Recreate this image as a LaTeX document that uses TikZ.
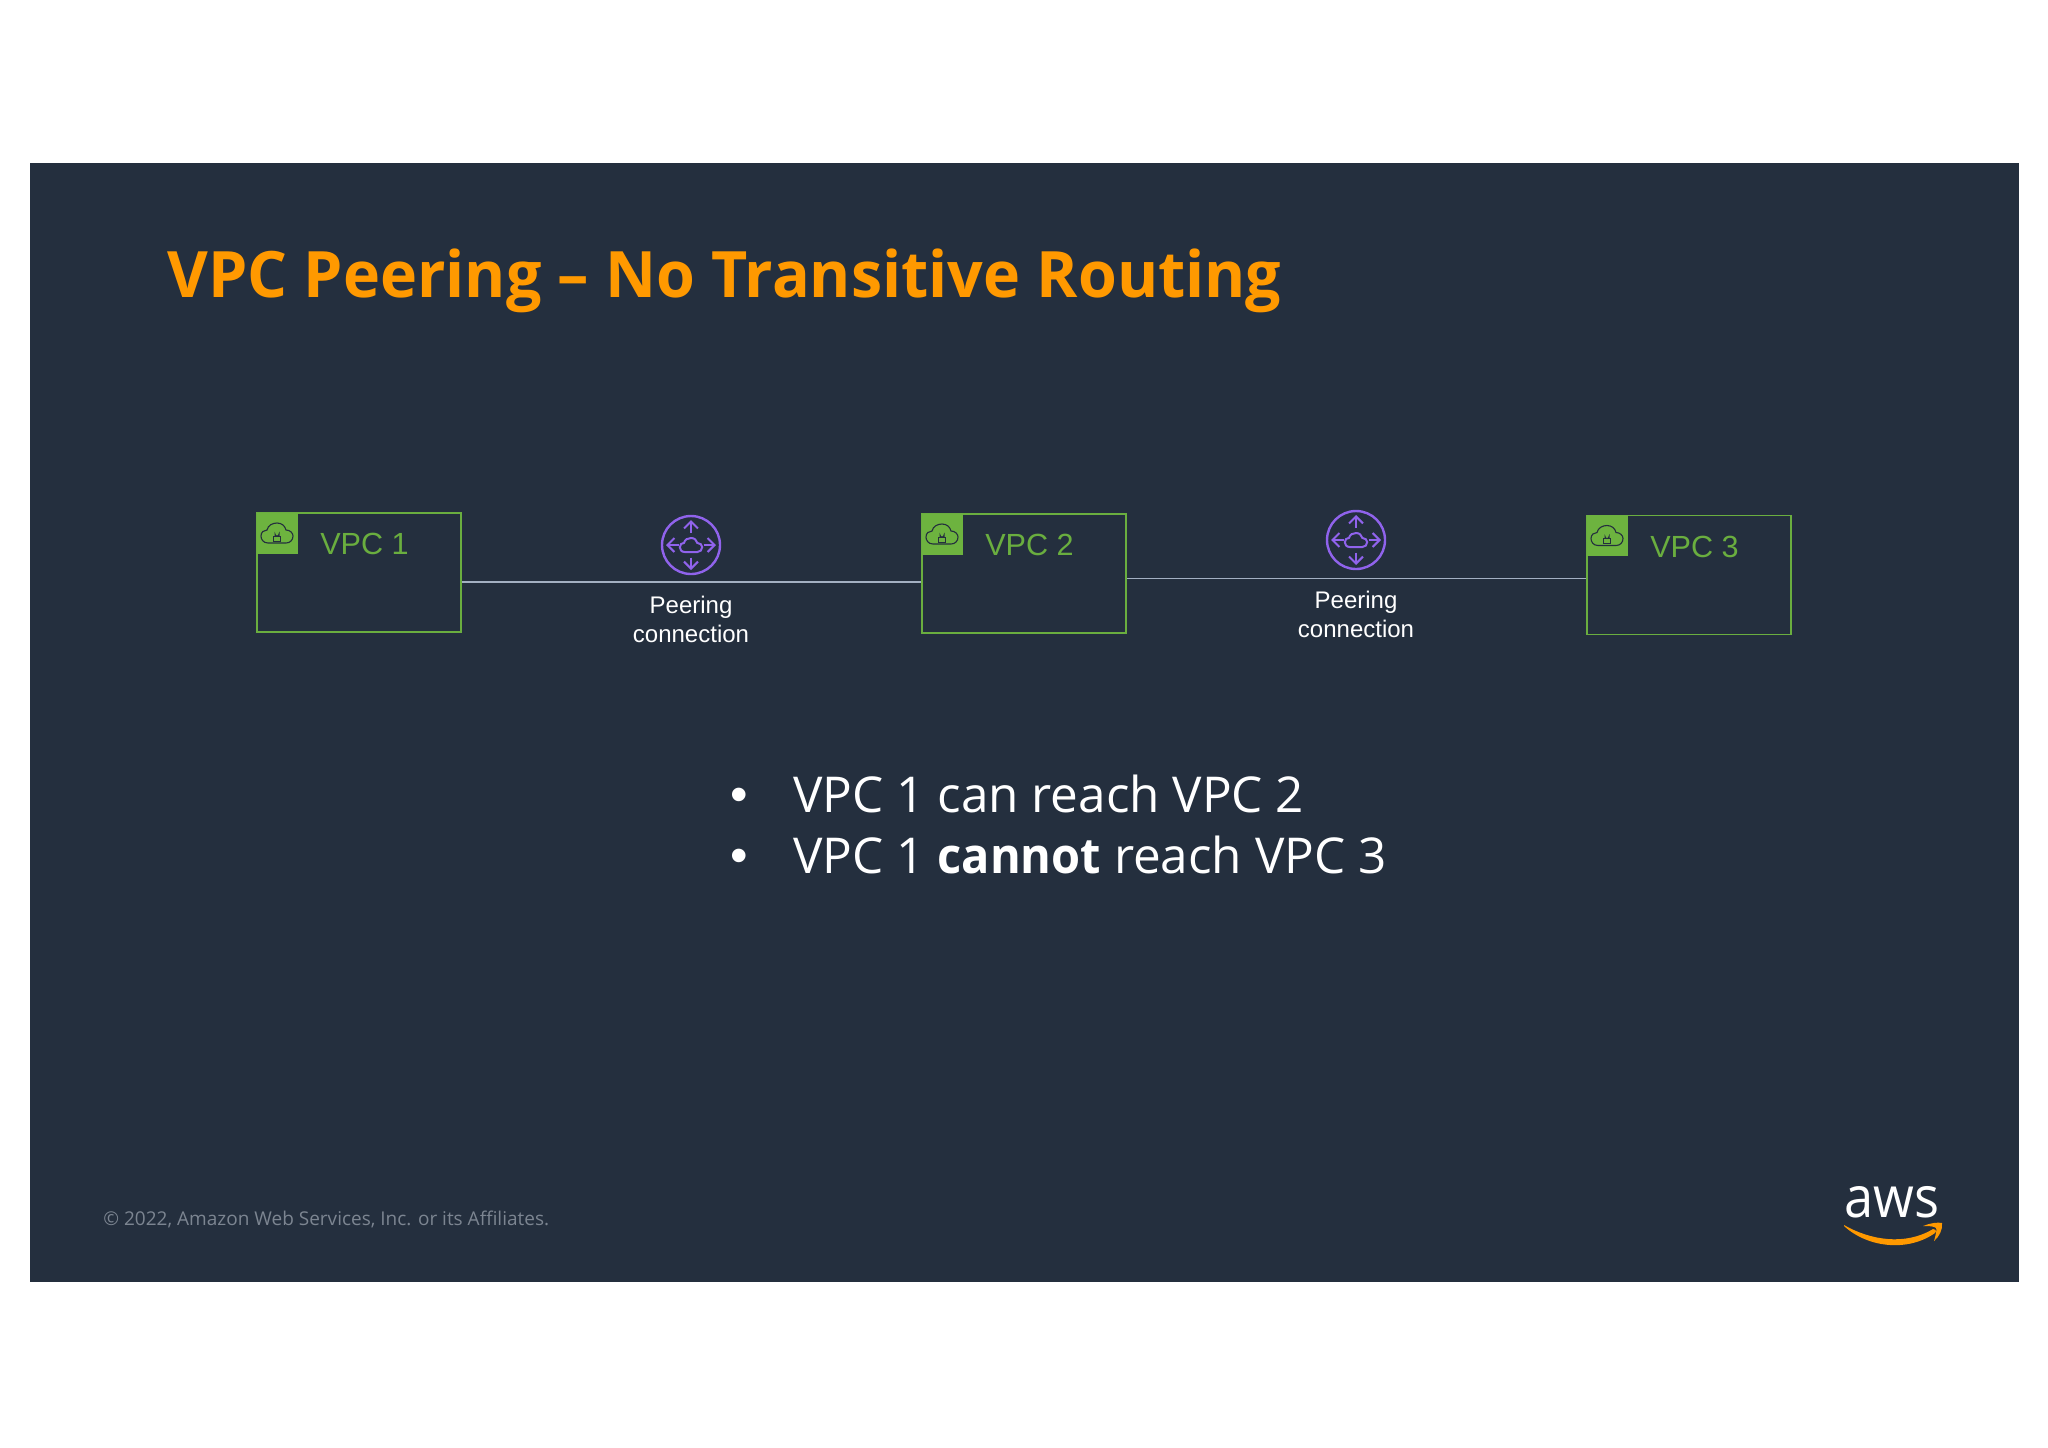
\documentclass[tikz,border=0pt]{standalone}
\usepackage{fontspec}
\setmainfont{Liberation Sans}
\newfontfamily\slidefont{Open Sans}
\usetikzlibrary{arrows.meta}
\definecolor{slidebg}{HTML}{242F3E}
\definecolor{awsorange}{HTML}{FF9900}
\definecolor{vpcgreen}{HTML}{6AAE3F}
\definecolor{tabgreen}{HTML}{6DB33F}
\definecolor{peerpurple}{HTML}{9063EC}
\definecolor{linkgrey}{HTML}{A3B0C2}
\definecolor{footgrey}{HTML}{7C8591}
\tikzset{
  x=0.5pt, y=-0.5pt,
  vpcbox/.style={draw=vpcgreen, line width=0.9pt, minimum width=102pt, minimum height=59.5pt, inner sep=0pt},
  vpctab/.style={fill=tabgreen, minimum size=20.5pt, inner sep=0pt, anchor=north west},
  vpclabel/.style={text=vpcgreen, anchor=west, inner sep=0pt, font=\fontsize{15.3}{18}\selectfont},
  peerlabel/.style={text=white, align=center, inner sep=0pt, font=\fontsize{12}{14.5}\selectfont},
  peerring/.style={draw=peerpurple, circle, line width=1.2pt, minimum size=29pt, inner sep=0pt},
  peerline/.style={draw=linkgrey, line width=0.8pt},
  bullettext/.style={text=white, anchor=west, inner sep=0pt, font=\slidefont\fontsize{24.7}{30}\selectfont},
  cloudshape/.pic={
    \path[pic actions] (-9,10) .. controls (-14,10) and (-16,6) .. (-16,3)
      .. controls (-16,-1) and (-13,-3) .. (-10,-3)
      .. controls (-9,-8) and (-4,-10) .. (0,-10)
      .. controls (5,-10) and (8,-7) .. (9,-3)
      .. controls (13,-3) and (16,0) .. (16,3)
      .. controls (16,7) and (13,10) .. (9,10) -- cycle;
  },
  vpcicon/.pic={
    \pic[draw=slidebg, line width=0.55pt] {cloudshape};
    \draw[slidebg, line width=0.5pt] (-3.5,3) rectangle (3.5,8);
    \draw[slidebg, line width=0.5pt] (-2,3) -- (-2,1) arc[start angle=180, end angle=0, radius=2] -- (2,3);
  },
  peericon/.pic={
    \pic[scale=0.7, draw=peerpurple, line width=1pt] {cloudshape};
    \foreach \dirx/\diry in {1/0,-1/0,0/1,0/-1}
      \draw[peerpurple, line width=1pt, -{Straight Barb[length=3.5pt,width=7pt]}]
        (12.5*\dirx,12.5*\diry) -- (25*\dirx,25*\diry);
  },
}
\begin{document}
\begin{tikzpicture}
  \useasboundingbox (0,0) rectangle (2048,1447);
  \fill[slidebg] (30,163) rectangle (2019,1282);

  \node[anchor=west, inner sep=0pt, text=awsorange, font=\slidefont\bfseries\fontsize{32}{38}\selectfont, xscale=0.98, transform shape] (title) at (167,281) {VPC Peering – No Transitive Routing};

  % vpc boxes
  \node[vpcbox] (vpcA) at (359,572.5) {};
  \node[vpcbox] (vpcB) at (1024,573.5) {};
  \node[vpcbox] (vpcC) at (1689,575) {};
  \foreach \vpc/\num in {vpcA/1,vpcB/2,vpcC/3} {
    \node[vpctab] (\vpc tab) at (\vpc.north west) {};
    \pic at (\vpc tab.center) {vpcicon};
    \node[vpclabel] (\vpc label) at ([xshift=11pt,yshift=-5.5pt]\vpc tab.east) {VPC \num};
  }

  % peering links
  \coordinate (linkA) at (691,582);
  \coordinate (linkB) at (1356,578.5);
  \draw[peerline] (vpcA.east |- linkA) -- (vpcB.west |- linkA);
  \draw[peerline] (vpcB.east |- linkB) -- (vpcC.west |- linkB);

  \node[peerring] (peerA) at (691,545) {};
  \node[peerring] (peerB) at (1356,540) {};
  \pic at (peerA) {peericon};
  \pic at (peerB) {peericon};
  \node[peerlabel] (peerAtext) at (691,619) {Peering\\connection};
  \node[peerlabel] (peerBtext) at (1356,614) {Peering\\connection};

  % bullets
  \node[text=white, font=\fontsize{25}{30}\selectfont] (dotA) at (739,800) {\textbullet};
  \node[text=white, font=\fontsize{25}{30}\selectfont] (dotB) at (739,861) {\textbullet};
  \node[bullettext] (lineA) at (793,794) {VPC 1 can reach VPC 2};
  \node[bullettext] (lineB) at (793,855) {VPC 1 \scalebox{0.95}[1]{\textbf{cannot}} reach VPC 3};

  % footer
  \node[anchor=west, inner sep=0pt, text=footgrey, font=\slidefont\fontsize{9.5}{12}\selectfont] (foot) at (103,1219) {© 2022, Amazon Web Services, Inc. or its Affiliates.};

  % logo
  \node[text=white, inner sep=0pt, anchor=base, font=\slidefont\fontsize{28.5}{32}\selectfont, xscale=0.92, transform shape] (awsword) at (1892,1217) {aws};
  \fill[awsorange] (1844,1225) .. controls (1870,1240) and (1905,1246) .. (1933,1229)
    .. controls (1935,1228) and (1937,1231) .. (1935,1233)
    .. controls (1908,1252) and (1868,1248) .. (1844,1226) -- cycle;
  \fill[awsorange] (1923,1226) .. controls (1930,1223) and (1938,1222) .. (1942,1223)
    .. controls (1943,1229) and (1939,1237) .. (1934,1241)
    .. controls (1936,1234) and (1937,1229) .. (1936,1228)
    .. controls (1934,1226) and (1928,1226) .. (1923,1226) -- cycle;
\end{tikzpicture}
\end{document}
